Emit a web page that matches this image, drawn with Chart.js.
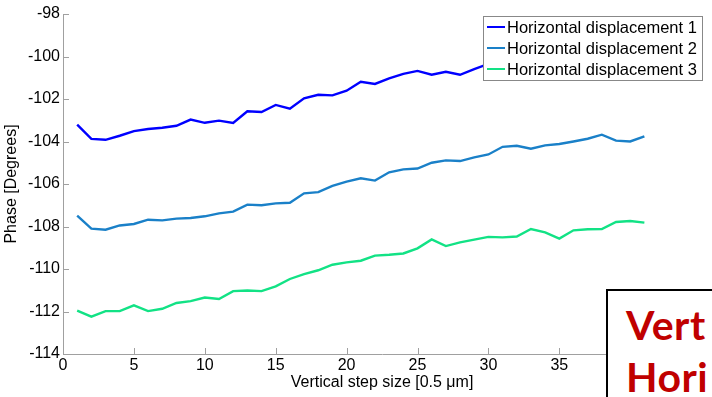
<!DOCTYPE html>
<html>
<head>
<meta charset="utf-8">
<script src="https://cdn.jsdelivr.net/npm/chart.js@4/dist/chart.umd.min.js"></script>
<style>
  html, body { margin: 0; padding: 0; background: #fff; }
  #wrap { position: relative; width: 712px; height: 397px; overflow: hidden; }
  #overlay {
    position: absolute; left: 606px; top: 289px; width: 200px; height: 200px;
    background: #fff; border: 2px solid #000; box-sizing: border-box;
    font-family: Lato, "Open Sans", sans-serif; font-weight: 700; font-size: 41px;
    color: #c00000; line-height: 52px; padding: 8px 0 0 18px; letter-spacing: 0.5px;
  }
</style>
</head>
<body>
<div id="wrap">
  <canvas id="chart" width="712" height="397"></canvas>
  <div id="overlay">Vert<br>Hori</div>
</div>
<script>
const stepSize = [1, 2, 3, 4, 5, 6, 7, 8, 9, 10, 11, 12, 13, 14, 15, 16, 17, 18, 19, 20,
  21, 22, 23, 24, 25, 26, 27, 28, 29, 30, 31, 32, 33, 34, 35, 36, 37, 38, 39, 40, 41];

const horizontal1 = [-103.21, -103.88, -103.92, -103.73, -103.51, -103.41, -103.35, -103.26, -102.97, -103.12,
  -103.02, -103.13, -102.58, -102.61, -102.28, -102.46, -101.97, -101.80, -101.83, -101.61,
  -101.19, -101.29, -101.03, -100.82, -100.68, -100.86, -100.72, -100.86, -100.59, -100.35,
  -100.30, -100.10, -100.00, -99.90, -100.00, -99.80, -99.70, -99.60, -99.70, -99.60, -99.50];

const horizontal2 = [-107.49, -108.10, -108.15, -107.95, -107.88, -107.68, -107.71, -107.63, -107.60, -107.52,
  -107.38, -107.30, -106.97, -107.00, -106.91, -106.88, -106.44, -106.38, -106.09, -105.89,
  -105.73, -105.84, -105.45, -105.31, -105.27, -105.00, -104.89, -104.92, -104.75, -104.61,
  -104.25, -104.20, -104.34, -104.18, -104.12, -104.00, -103.87, -103.68, -103.96, -104.00, -103.76];

const horizontal3 = [-111.96, -112.24, -111.98, -111.98, -111.71, -111.98, -111.87, -111.60, -111.51, -111.34,
  -111.41, -111.04, -111.01, -111.04, -110.82, -110.47, -110.24, -110.06, -109.80, -109.69,
  -109.61, -109.37, -109.33, -109.27, -109.03, -108.61, -108.92, -108.75, -108.62, -108.49,
  -108.51, -108.47, -108.12, -108.28, -108.57, -108.18, -108.13, -108.12, -107.79, -107.74, -107.82];

const seriesNames = ["Horizontal displacement 1", "Horizontal displacement 2", "Horizontal displacement 3"];
const seriesColors = ["#0000ff", "#1a80c8", "#12e285"];

const FONT = "'Liberation Sans', Arial, sans-serif";
const AXIS_GREY = "#a0a0a0";

const toPoints = (ys) => stepSize.map((x, i) => ({ x: x, y: ys[i] }));

// MATLAB style: ticks pointing into the plot area
const inwardTicks = {
  id: "inwardTicks",
  afterDraw(chart) {
    const { ctx, chartArea, scales } = chart;
    ctx.save();
    ctx.strokeStyle = AXIS_GREY;
    ctx.lineWidth = 1;
    scales.x.ticks.forEach((t) => {
      const px = Math.round(scales.x.getPixelForValue(t.value)) + 0.5;
      ctx.beginPath();
      ctx.moveTo(px, chartArea.bottom);
      ctx.lineTo(px, chartArea.bottom - 6);
      ctx.stroke();
    });
    scales.y.ticks.forEach((t) => {
      const py = Math.round(scales.y.getPixelForValue(t.value)) + 0.5;
      ctx.beginPath();
      ctx.moveTo(chartArea.left, py);
      ctx.lineTo(chartArea.left + 6, py);
      ctx.stroke();
    });
    ctx.restore();
  },
};

// legend box in the top-right corner of the axes
const boxLegend = {
  id: "boxLegend",
  afterDatasetsDraw(chart) {
    const { ctx } = chart;
    const left = 483, top = 16, width = 219, rowH = 21;
    ctx.save();
    ctx.fillStyle = "#fff";
    ctx.fillRect(left, top, width, rowH * 3 + 1);
    ctx.strokeStyle = "#888";
    ctx.lineWidth = 1;
    ctx.strokeRect(left + 0.5, top + 0.5, width, rowH * 3 + 1);
    ctx.font = "16.5px " + FONT;
    ctx.textBaseline = "middle";
    chart.data.datasets.forEach((ds, i) => {
      const cy = top + 11 + i * rowH;
      ctx.strokeStyle = ds.borderColor;
      ctx.lineWidth = 2;
      ctx.beginPath();
      ctx.moveTo(left + 4, cy);
      ctx.lineTo(left + 22, cy);
      ctx.stroke();
      ctx.fillStyle = "#000";
      ctx.fillText(ds.label, left + 24, cy + 1);
    });
    ctx.restore();
  },
};

new Chart(document.getElementById("chart"), {
  type: "line",
  data: {
    datasets: [horizontal1, horizontal2, horizontal3].map((ys, i) => ({
      label: seriesNames[i],
      data: toPoints(ys),
      borderColor: seriesColors[i],
      backgroundColor: seriesColors[i],
      borderWidth: 2.4,
      pointRadius: 0,
      tension: 0,
      fill: false,
    })),
  },
  options: {
    responsive: false,
    animation: false,
    layout: { padding: { left: 0, right: 5, top: 14, bottom: 0 } },
    plugins: { legend: { display: false }, tooltip: { enabled: false } },
    scales: {
      x: {
        type: "linear",
        min: 0,
        max: 45,
        ticks: { stepSize: 5, color: "#000", font: { family: FONT, size: 16 }, padding: 2, maxRotation: 0 },
        grid: { drawOnChartArea: false, drawTicks: false },
        border: { color: AXIS_GREY, width: 1 },
        title: {
          display: true,
          text: "Vertical step size [0.5 \u03bcm]",
          color: "#000",
          font: { family: FONT, size: 16 },
          padding: { top: 0, bottom: 5 },
        },
        afterFit: (scale) => { scale.height = 43; },
      },
      y: {
        min: -114,
        max: -98,
        ticks: { stepSize: 2, color: "#000", font: { family: FONT, size: 16 }, padding: 3 },
        grid: { drawOnChartArea: false, drawTicks: false },
        border: { color: AXIS_GREY, width: 1 },
        title: {
          display: true,
          text: "Phase [Degrees]",
          color: "#000",
          font: { family: FONT, size: 16 },
          padding: { top: 2, bottom: 0 },
        },
        afterFit: (scale) => { scale.width = 63; },
      },
    },
  },
  plugins: [inwardTicks, boxLegend],
});
</script>
</body>
</html>
